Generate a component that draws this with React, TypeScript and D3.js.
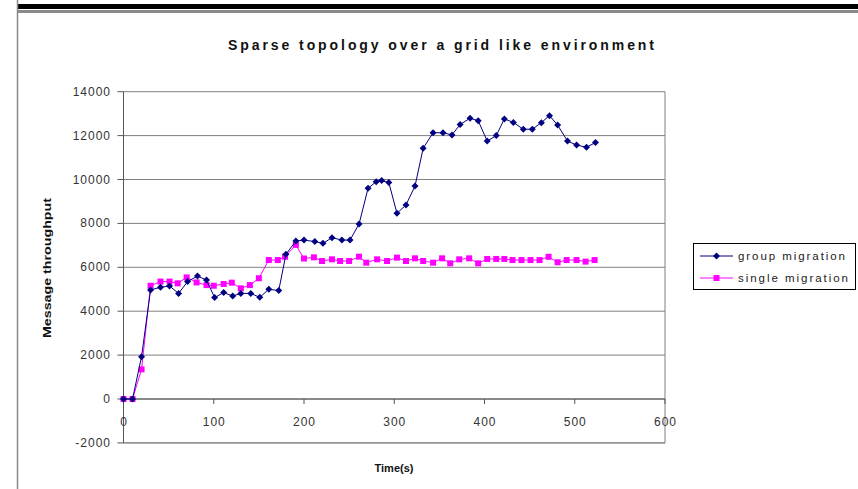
import React from "react";
import * as d3 from "d3";

const groupTimes = [0,10,20,30,41,51,61,71,82,92,101,111,121,130,141,151,161,172,180,191,200,212,221,231,242,251,261,271,280,286,294,303,313,323,332,343,354,364,373,384,393,403,413,422,432,443,453,463,472,481,492,502,513,523];
const groupValues = [0,0,1930,4970,5090,5150,4810,5350,5600,5420,4620,4850,4690,4810,4810,4630,5000,4940,6590,7200,7240,7170,7090,7350,7240,7240,7970,9600,9900,9950,9860,8460,8840,9700,11420,12130,12130,12030,12510,12790,12680,11750,12000,12760,12600,12290,12290,12590,12910,12480,11750,11570,11470,11680];

const singleTimes = [0,10,20,30,41,51,60,70,81,92,100,111,120,130,140,150,161,171,179,191,200,211,220,231,240,250,261,269,281,292,303,313,323,332,343,353,362,372,383,393,403,413,422,431,441,451,461,471,481,491,502,512,522];
const singleValues = [0,0,1350,5160,5350,5350,5270,5540,5310,5190,5160,5240,5300,5040,5190,5500,6330,6330,6480,7020,6400,6454,6287,6363,6287,6287,6484,6211,6363,6287,6439,6287,6408,6287,6211,6408,6180,6363,6408,6180,6380,6380,6380,6330,6330,6330,6330,6480,6230,6330,6330,6260,6330];

const xTicks = [0, 100, 200, 300, 400, 500, 600];
const yTicks = [-2000, 0, 2000, 4000, 6000, 8000, 10000, 12000, 14000];

const titleText = "Sparse topology over a grid like environment";
const xTitle = "Time(s)";
const yTitle = "Message throughput";
const seriesNames = ["group migration", "single migration"];

const W = 858;
const H = 489;
const FONT = "'Liberation Sans', Arial, sans-serif";
const BLUE = "#000080";
const PINK = "#FF00FF";
const GRID = "#808080";

export default function App() {
  const x = d3.scaleLinear().domain([0, 600]).range([123.5, 665]);
  const y = d3.scaleLinear().domain([-2000, 14000]).range([442.9, 91.7]);

  const groupData = groupTimes.map((t, i) => [t, groupValues[i]] as [number, number]);
  const singleData = singleTimes.map((t, i) => [t, singleValues[i]] as [number, number]);

  const line = d3
    .line<[number, number]>()
    .x((d) => x(d[0]))
    .y((d) => y(d[1]));

  const diamond = (cx: number, cy: number, r: number) =>
    `M${cx},${cy - r}L${cx + r},${cy}L${cx},${cy + r}L${cx - r},${cy}Z`;

  const x0 = x(0);
  const x1 = x(600);
  const yTop = y(14000);
  const yBot = y(-2000);
  const yZero = y(0);

  return (
    <svg
      width={W}
      height={H}
      style={{ position: "absolute", left: 0, top: 0, background: "#fff" }}
      fontFamily={FONT}
    >
      <rect x={0} y={0} width={W} height={H} fill="#fff" />
      {/* frame decorations */}
      <rect x={17} y={4} width={W - 17} height={5} fill="#000" />
      <rect x={17} y={10} width={W - 17} height={3} fill="#8a8a8a" />
      <line x1={17.5} y1={0} x2={17.5} y2={H} stroke="#8a8a8a" strokeWidth={1.5} />

      {/* title */}
      <text
        x={441}
        y={50}
        textAnchor="middle"
        fontSize={14}
        fontWeight="bold"
        fill="#111"
        textLength={426}
        lengthAdjust="spacing"
      >
        {titleText}
      </text>

      {/* gridlines */}
      {yTicks.map((v) => (
        <line key={"g" + v} x1={x0} x2={x1} y1={y(v)} y2={y(v)} stroke={GRID} strokeWidth={1} />
      ))}
      {/* plot border right & bottom */}
      <line x1={x1} x2={x1} y1={yTop} y2={yBot} stroke={GRID} strokeWidth={1} />
      <line x1={x0} x2={x1} y1={yBot} y2={yBot} stroke={GRID} strokeWidth={1} />

      {/* y axis */}
      <line x1={x0} x2={x0} y1={yTop} y2={yBot} stroke="#555" strokeWidth={1} />
      {yTicks.map((v) => (
        <g key={"yt" + v}>
          <line x1={x0 - 6} x2={x0} y1={y(v)} y2={y(v)} stroke="#555" strokeWidth={1} />
          <text
            x={111}
            y={y(v) + 4}
            textAnchor="end"
            fontSize={12}
            letterSpacing={1}
            fill="#333"
          >
            {String(v)}
          </text>
        </g>
      ))}

      {/* x axis at zero */}
      <line x1={x0} x2={x1} y1={yZero} y2={yZero} stroke="#555" strokeWidth={1} />
      {xTicks.map((t) => (
        <g key={"xt" + t}>
          <line x1={x(t)} x2={x(t)} y1={yZero} y2={yZero + 5} stroke="#555" strokeWidth={1} />
          <text x={x(t) + 0.5} y={426} textAnchor="middle" fontSize={12} letterSpacing={1} fill="#333">
            {String(t)}
          </text>
        </g>
      ))}

      {/* axis titles */}
      <text x={394} y={472} textAnchor="middle" fontSize={11} fontWeight="bold" fill="#111">
        {xTitle}
      </text>
      <text
        transform={`translate(51,268) rotate(-90)`}
        textAnchor="middle"
        fontSize={11}
        fontWeight="bold"
        fill="#111"
        textLength={140}
        lengthAdjust="spacingAndGlyphs"
      >
        {yTitle}
      </text>

      {/* series */}
      <path d={line(singleData) || ""} fill="none" stroke={PINK} strokeWidth={1} />
      {singleData.map((d, i) => (
        <rect key={"s" + i} x={x(d[0]) - 3} y={y(d[1]) - 3} width={6} height={6} fill={PINK} />
      ))}
      <path d={line(groupData) || ""} fill="none" stroke={BLUE} strokeWidth={1} />
      {groupData.map((d, i) => (
        <path key={"gm" + i} d={diamond(x(d[0]), y(d[1]), 3.5)} fill={BLUE} />
      ))}

      {/* legend */}
      <rect x={693.5} y={243.5} width={162} height={46} fill="#fff" stroke="#000" strokeWidth={1} />
      <line x1={700} x2={733} y1={256} y2={256} stroke={BLUE} strokeWidth={1} />
      <path d={diamond(716.5, 256, 3.5)} fill={BLUE} />
      <text x={738} y={260} fontSize={11.5} fill="#222" textLength={107} lengthAdjust="spacing">
        {seriesNames[0]}
      </text>
      <line x1={700} x2={733} y1={278} y2={278} stroke={PINK} strokeWidth={1} />
      <rect x={713.5} y={275} width={6} height={6} fill={PINK} />
      <text x={738} y={282} fontSize={11.5} fill="#222" textLength={110} lengthAdjust="spacing">
        {seriesNames[1]}
      </text>
    </svg>
  );
}
